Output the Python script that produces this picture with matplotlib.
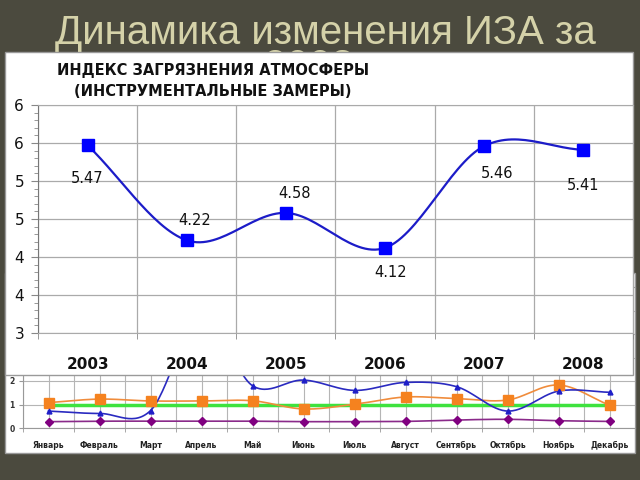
import numpy as np
import matplotlib
matplotlib.use('Agg')
import matplotlib.pyplot as plt
from matplotlib.patches import Rectangle

# yearly index (upper chart)
years = ['2003', '2004', '2005', '2006', '2007', '2008']
iza = [5.47, 4.22, 4.58, 4.12, 5.46, 5.41]
iza_ticks = [3.0, 3.5, 4.0, 4.5, 5.0, 5.5, 6.0]
iza_tick_labels = ['3', '4', '4', '5', '5', '6', '6']

# monthly series (lower chart, partly hidden)
months = ['Январь', 'Февраль', 'Март', 'Апрель', 'Май', 'Июнь',
          'Июль', 'Август', 'Сентябрь', 'Октябрь', 'Ноябрь', 'Декабрь']
m_blue = [0.72, 0.62, 0.74, 4.8, 1.8, 2.04, 1.6, 1.94, 1.76, 0.72, 1.57, 1.52]
m_orange = [1.08, 1.23, 1.15, 1.15, 1.16, 0.81, 1.01, 1.32, 1.25, 1.19, 1.83, 0.97]
m_purple = [0.27, 0.29, 0.29, 0.29, 0.29, 0.27, 0.27, 0.28, 0.34, 0.37, 0.31, 0.28]
m_green = [1.0] * 12


def smooth(y, n=30):
    # catmull-rom style smoothing like excel's "smoothed line"
    y = np.asarray(y, dtype=float)
    k = len(y)
    m = np.zeros(k)
    m[1:-1] = (y[2:] - y[:-2]) / 2
    m[0] = y[1] - y[0]
    m[-1] = y[-1] - y[-2]
    xs, ys = [], []
    for i in range(k - 1):
        t = np.linspace(0, 1, n, endpoint=(i == k - 2))
        h00 = 2*t**3 - 3*t**2 + 1
        h10 = t**3 - 2*t**2 + t
        h01 = -2*t**3 + 3*t**2
        h11 = t**3 - t**2
        xs.append(i + t)
        ys.append(h00*y[i] + h10*m[i] + h01*y[i+1] + h11*m[i+1])
    return np.concatenate(xs), np.concatenate(ys)


def px_axes(l, t, r, b, z):
    ax = fig.add_axes([l/640, 1 - b/480, (r - l)/640, (b - t)/480])
    ax.set_zorder(z)
    return ax


fig = plt.figure(figsize=(6.4, 4.8), dpi=100)
fig.patch.set_facecolor('#4b4a3e')

title_col = '#d5d2a9'
fig.text(325/640, 1 - 44/480, 'Динамика изменения ИЗА за', ha='center', va='baseline',
         fontsize=29, color=title_col, family='Liberation Sans', zorder=0.5)
fig.text(309/640, 1 - 78/480, '2008', ha='center', va='baseline',
         fontsize=29, color=title_col, family='Liberation Sans', zorder=0.5)

# lower panel
fig.patches.append(Rectangle((5/640, 1 - 453/480), 630/640, 180/480, transform=fig.transFigure,
                             facecolor='white', edgecolor='#9a9a9a', lw=1, zorder=1))

ax2 = px_axes(23, 287, 635, 428, 2)
ax2.set_facecolor('white')
mx = np.arange(len(months))
ax2.plot(mx, m_green, color='#3ee23e', lw=2.5, zorder=3)
sx, sy = smooth(m_orange)
ax2.plot(sx, sy, color='#f08c3c', lw=1.2, zorder=4)
ax2.plot(mx, m_orange, 's', color='#f5821f', ms=6.5, zorder=5)
sx, sy = smooth(m_purple)
ax2.plot(sx, sy, color='#8a2a8a', lw=1.2, zorder=4)
ax2.plot(mx, m_purple, 'D', color='#800080', ms=4.5, zorder=5)
sx, sy = smooth(m_blue)
ax2.plot(sx, sy, color='#2a2ac0', lw=1.2, zorder=4)
ax2.plot(mx, m_blue, '^', color='#1f1fc8', ms=3.5, zorder=5)
ax2.set_xlim(-0.5, 11.5)
ax2.set_ylim(0, 6)
ax2.set_yticks(range(0, 7))
ax2.set_yticklabels([str(v) for v in range(0, 7)], fontsize=5.5, fontweight='bold', color='#333333')
ax2.set_xticks(mx)
ax2.set_xticklabels(months, fontsize=5.5, fontweight='bold', color='#222222')
ax2.set_xticks(np.arange(-0.5, 12, 1), minor=True)
ax2.tick_params(axis='x', which='major', length=0, pad=9)
ax2.tick_params(axis='x', which='minor', length=3, color='#999999', direction='out')
ax2.tick_params(axis='y', length=3, color='#999999', pad=3)
ax2.grid(True, which='both', color='#b5b5b5', lw=0.8)
ax2.set_axisbelow(True)
for s in ax2.spines.values():
    s.set_color('#999999')

# upper panel
fig.patches.append(Rectangle((5/640, 1 - 375/480), 628/640, 323/480, transform=fig.transFigure,
                             facecolor='white', edgecolor='#9a9a9a', lw=1, zorder=3))
fig.text(213/640, 1 - 71/480, 'ИНДЕКС ЗАГРЯЗНЕНИЯ АТМОСФЕРЫ', ha='center', va='center',
         fontsize=10.5, fontweight='bold', color='#111111', zorder=3.5)
fig.text(213/640, 1 - 92/480, '(ИНСТРУМЕНТАЛЬНЫЕ ЗАМЕРЫ)', ha='center', va='center',
         fontsize=10.5, fontweight='bold', color='#111111', zorder=3.5)

ax = px_axes(38, 105, 633, 333, 4)
ax.set_facecolor('white')
yx = np.arange(len(years))
sx, sy = smooth(iza)
ax.plot(sx, sy, color='#1c1cc8', lw=1.6, zorder=3)
ax.plot(yx, iza, 's', color='#0000ff', ms=8, zorder=4)
label_off = [(0, -24), (6, 14), (6, 14), (4, -18), (9, -20), (0, -26)]
for i, v in enumerate(iza):
    ax.annotate(f'{v:.2f}', (yx[i], v), xytext=label_off[i], textcoords='offset points',
                ha='center', va='center', fontsize=10.5, color='#111111')
ax.set_xlim(-0.5, 5.5)
ax.set_ylim(3, 6)
ax.set_yticks(iza_ticks)
ax.set_yticklabels(iza_tick_labels, fontsize=11, color='#111111')
ax.set_yticks(np.arange(3, 6.01, 0.1), minor=True)
ax.set_xticks(yx)
ax.set_xticklabels(years, fontsize=11, fontweight='bold', color='#111111')
ax.set_xticks(np.arange(-0.5, 6, 0.5), minor=True)
ax.tick_params(axis='x', which='major', length=0, pad=17)
ax.tick_params(axis='x', which='minor', length=4, color='#888888', direction='out')
ax.tick_params(axis='y', which='major', length=5, color='#888888', pad=5)
ax.tick_params(axis='y', which='minor', length=3, color='#888888')
ax.grid(True, which='major', axis='y', color='#aaaaaa', lw=0.9)
ax.grid(True, which='minor', axis='x', color='#aaaaaa', lw=0.9)
ax.set_axisbelow(True)
for s in ax.spines.values():
    s.set_color('#aaaaaa')
ax.spines['left'].set_color('#777777')

fig.savefig('out.png', dpi=100, facecolor=fig.get_facecolor())
